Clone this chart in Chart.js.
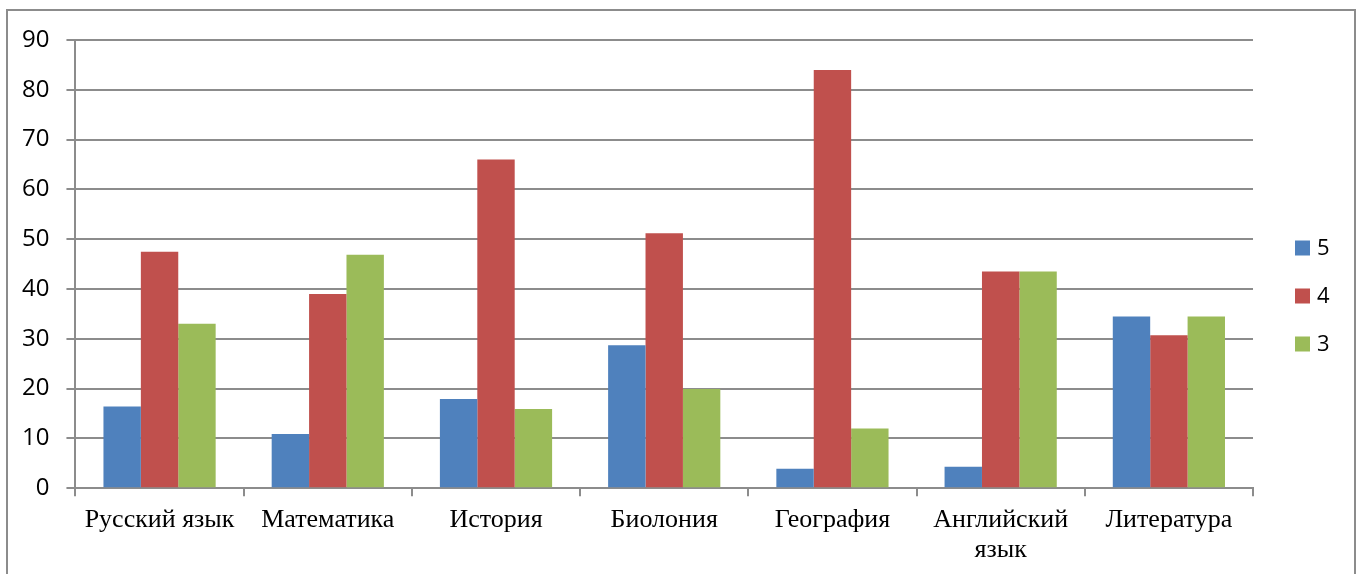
<!DOCTYPE html>
<html>
<head>
<meta charset="utf-8">
<script src="https://cdn.jsdelivr.net/npm/chart.js@4/dist/chart.umd.min.js"></script>
<style>
  html, body { margin: 0; padding: 0; background: #fff; }
  #wrap { position: absolute; left: 0; top: 0; width: 1360px; height: 574px; }
  #frame { position: absolute; left: 6px; top: 9px; width: 1350px; height: 600px; border: 2px solid #8c8c8c; box-sizing: border-box; }
  canvas { position: absolute; left: 0; top: 0; }
</style>
</head>
<body>
<div id="wrap">
  <div id="frame"></div>
  <canvas id="c" width="1360" height="574"></canvas>
</div>
<script>
const categories = ['Русский язык', 'Математика', 'История', 'Биолония', 'География', ['Английский', 'язык'], 'Литература'];
const seriesNames = ['5', '4', '3'];
const grade5 = [16.4, 10.9, 17.9, 28.7, 3.9, 4.3, 34.5];
const grade4 = [47.5, 39.0, 66.0, 51.2, 84.0, 43.5, 30.7];
const grade3 = [33.0, 46.9, 15.9, 19.9, 12.0, 43.5, 34.5];
const yTicks = [0, 10, 20, 30, 40, 50, 60, 70, 80, 90];
const colors = ['#4F81BD', '#C0504D', '#9BBB59'];

const values = [grade5, grade4, grade3];
const gridColor = '#8c8c8c';

// Legend drawn to the right of the plot area, built from the datasets
const sideLegend = {
  id: 'sideLegend',
  afterDraw(chart) {
    const ctx = chart.ctx;
    const area = chart.chartArea;
    const items = chart.data.datasets;
    const box = 15, gap = 48;
    const x0 = area.right + 42;
    const cy = 296;
    const y0 = cy - gap * (items.length - 1) / 2;
    ctx.save();
    ctx.font = '22px "Open Sans"';
    ctx.textBaseline = 'middle';
    ctx.textAlign = 'left';
    items.forEach((ds, i) => {
      const y = y0 + i * gap;
      ctx.fillStyle = ds.backgroundColor;
      ctx.fillRect(x0, y - box / 2, box, box);
      ctx.fillStyle = '#000';
      ctx.fillText(ds.label, x0 + box + 7, y + 1);
    });
    ctx.restore();
  }
};

new Chart(document.getElementById('c'), {
  type: 'bar',
  data: {
    labels: categories,
    datasets: values.map((v, i) => ({
      label: seriesNames[i],
      data: v,
      backgroundColor: colors[i],
      borderWidth: 0,
      categoryPercentage: 0.667,
      barPercentage: 1.0
    }))
  },
  options: {
    responsive: false,
    animation: false,
    layout: { padding: { left: 5, right: 107, top: 40, bottom: 0 } },
    plugins: {
      tooltip: { enabled: false },
      legend: { display: false }
    },
    scales: {
      x: {
        grid: { drawOnChartArea: false, drawTicks: true, tickLength: 8, color: gridColor, lineWidth: 2, offset: true },
        border: { color: gridColor, width: 2 },
        ticks: { color: '#000', font: { family: 'Liberation Serif', size: 26, lineHeight: 1.15 }, padding: 9, maxRotation: 0, autoSkip: false }
      },
      y: {
        min: 0, max: 90,
        afterBuildTicks: (axis) => { axis.ticks = yTicks.map(v => ({ value: v })); },
        grid: { color: gridColor, lineWidth: 2, tickLength: 9 },
        border: { color: gridColor, width: 2 },
        ticks: { color: '#000', font: { family: 'Open Sans', size: 24 }, padding: 17 }
      }
    }
  },
  plugins: [sideLegend]
});
</script>
</body>
</html>
